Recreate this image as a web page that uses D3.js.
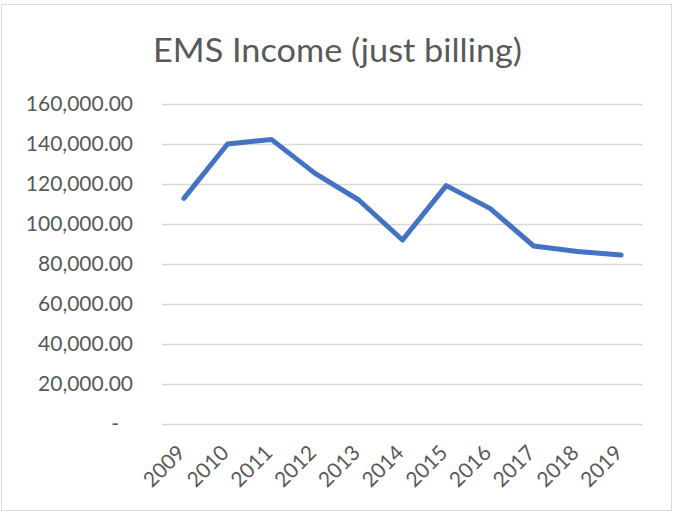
<!DOCTYPE html>
<html>
<head>
<meta charset="utf-8">
<script src="https://cdn.jsdelivr.net/npm/d3@7"></script>
<style>
  body { margin: 0; background: #fff; }
  svg { display: block; font-family: Lato, "Noto Sans", sans-serif; }
</style>
</head>
<body>
<svg id="chart"></svg>
<script>
var width = 673;
var height = 517;

var years = ["2009", "2010", "2011", "2012", "2013", "2014", "2015", "2016", "2017", "2018", "2019"];
var income = [112800, 140000, 142300, 125300, 112000, 92000, 119200, 107800, 89000, 86200, 84500];
var yTicks = [0, 20000, 40000, 60000, 80000, 100000, 120000, 140000, 160000];

var plot = { left: 162, right: 643, top: 104, bottom: 424 };

var svg = d3.select("#chart").attr("width", width).attr("height", height);

// chart frame
svg.append("rect")
  .attr("x", 1.5).attr("y", 4.5)
  .attr("width", 670).attr("height", 506)
  .attr("fill", "#fff")
  .attr("stroke", "#d9d9d9");

var xScale = d3.scalePoint()
  .domain(years)
  .range([plot.left, plot.right])
  .padding(0.5);

var yScale = d3.scaleLinear()
  .domain([0, 160000])
  .range([plot.bottom, plot.top]);

// gridlines + y labels
var fmt = d3.format(",.2f");
var yAxis = d3.axisLeft(yScale)
  .tickValues(yTicks)
  .tickSize(-(plot.right - plot.left))
  .tickPadding(29)
  .tickFormat((d) => (d === 0 ? "-" : fmt(d)));

var gy = svg.append("g")
  .attr("transform", `translate(${plot.left}, 0)`)
  .call(yAxis)
  .attr("font-family", null)
  .attr("font-size", null);
gy.select(".domain").remove();
gy.selectAll(".tick line").attr("stroke", "#d9d9d9").attr("stroke-width", 1.3);
gy.selectAll(".tick text")
  .attr("fill", "#595959")
  .style("font-size", "21px")
  .attr("dx", (d) => (d === 0 ? -14 : 0));

// x labels
var xAxis = d3.axisBottom(xScale).tickSize(0);
var gx = svg.append("g")
  .attr("transform", `translate(0, ${plot.bottom})`)
  .call(xAxis)
  .attr("font-family", null)
  .attr("font-size", null);
gx.select(".domain").remove();
gx.selectAll(".tick text")
  .attr("fill", "#595959")
  .style("font-size", "21px")
  .attr("text-anchor", "end")
  .attr("dy", 0)
  .attr("transform", "translate(0, 28) rotate(-45)");

// line
var line = d3.line()
  .x((d, i) => xScale(years[i]))
  .y((d) => yScale(d));

svg.append("path")
  .datum(income)
  .attr("fill", "none")
  .attr("stroke", "#4472c4")
  .attr("stroke-width", 5)
  .attr("stroke-linejoin", "round")
  .attr("stroke-linecap", "round")
  .attr("d", line);

// title
svg.append("text")
  .attr("x", 153)
  .attr("y", 62)
  .attr("fill", "#595959")
  .style("font-size", "33px")
  .attr("textLength", 369)
  .attr("lengthAdjust", "spacingAndGlyphs")
  .text("EMS Income (just billing)");
</script>
</body>
</html>
